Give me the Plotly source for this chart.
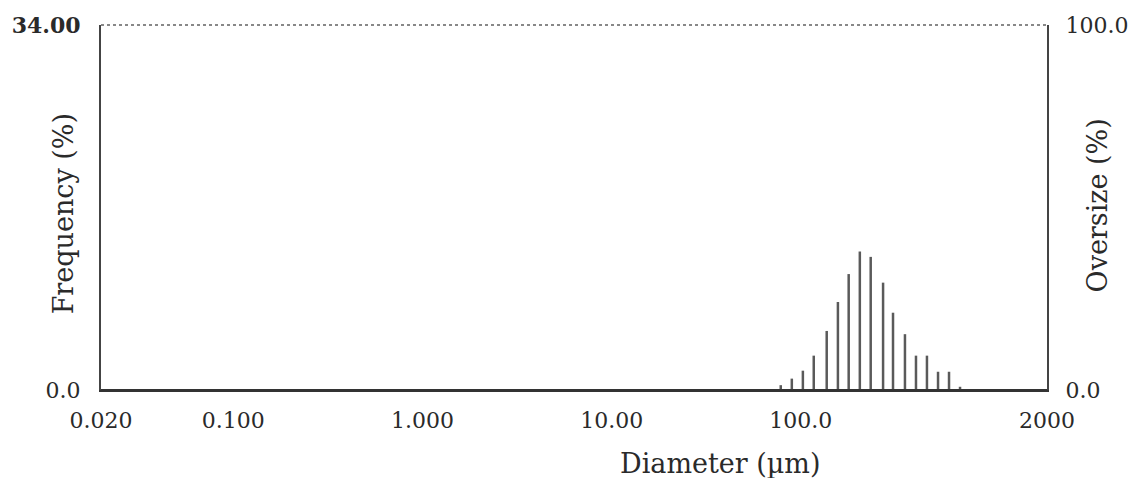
import plotly.graph_objects as go

diameter_um = [78.3, 89.6, 102.5, 117, 137, 157, 179, 205, 234, 272, 307, 355, 406, 464, 531, 607, 694]
frequency_pct = [0.45, 1.06, 1.8, 3.2, 5.5, 8.2, 10.8, 12.9, 12.4, 10.0, 7.2, 5.2, 3.2, 3.2, 1.7, 1.7, 0.3]

x_tickvals = [0.02, 0.1, 1, 10, 100, 2000]
x_ticktext = ["0.020", "0.100", "1.000", "10.00", "100.0", "2000"]
y_tickvals = [0, 34]
y_ticktext = ["0.0", "<b>34.00</b>"]
y2_tickvals = [0, 100]
y2_ticktext = ["0.0", "100.0"]

xs, ys = [], []
for d, f in zip(diameter_um, frequency_pct):
    xs += [d, d, None]
    ys += [0, f, None]

FONT = "DejaVu Serif"
TCOL = "#2a2a2a"
CLEAR = "rgba(0,0,0,0)"
fig = go.Figure()
fig.add_trace(go.Scatter(x=xs, y=ys, mode="lines",
                         line=dict(color="#5a5a5a", width=2.5),
                         hoverinfo="skip", showlegend=False))
fig.add_trace(go.Scatter(x=[0.02, 2000], y=[0, 0], yaxis="y2", mode="lines",
                         line=dict(color="#333", width=2), showlegend=False, hoverinfo="skip"))

fig.update_layout(
    width=1141, height=478,
    margin=dict(l=100, r=94, t=16, b=88),
    paper_bgcolor="white", plot_bgcolor="white",
    font=dict(family=FONT, color=TCOL, size=22),
    xaxis=dict(type="log", range=[0.30103 - 2, 3.30103],
               tickvals=x_tickvals, ticktext=x_ticktext,
               showgrid=False, zeroline=False, showline=True,
               linecolor="#333", linewidth=2,
               ticks="outside", ticklen=10, tickcolor=CLEAR,
               tickfont=dict(size=22, family=FONT)),
    yaxis=dict(range=[0, 34], tickvals=y_tickvals, ticktext=y_ticktext,
               showgrid=False, zeroline=False, showline=True,
               linecolor="#444", linewidth=2,
               ticks="outside", ticklen=14, tickcolor=CLEAR,
               tickfont=dict(size=22, family=FONT)),
    yaxis2=dict(range=[0, 100], overlaying="y", side="right",
                tickvals=y2_tickvals, ticktext=y2_ticktext,
                showgrid=False, zeroline=False, showline=True,
                linecolor="#444", linewidth=2,
                ticks="outside", ticklen=12, tickcolor=CLEAR,
                tickfont=dict(size=22, family=FONT)),
    shapes=[dict(type="line", xref="paper", yref="paper", x0=0, x1=1, y0=1, y1=1,
                 line=dict(color="#888", width=2, dash="dot"))],
    annotations=[
        dict(text="Diameter (µm)", xref="paper", yref="paper",
             x=(720 - 100) / 947, y=-(465 - 390) / 374, yanchor="middle", xanchor="center",
             showarrow=False, font=dict(size=27, family=FONT)),
        dict(text="Frequency (%)", xref="paper", yref="paper", textangle=-90,
             x=-(100 - 62) / 947, y=(390 - 210) / 374, xanchor="center", yanchor="middle",
             showarrow=False, font=dict(size=27, family=FONT)),
        dict(text="Oversize (%)", xref="paper", yref="paper", textangle=-90,
             x=1 + (1098 - 1047) / 947, y=(390 - 201) / 374, xanchor="center", yanchor="middle",
             showarrow=False, font=dict(size=27, family=FONT)),
    ],
)

fig.write_html("out.html")
